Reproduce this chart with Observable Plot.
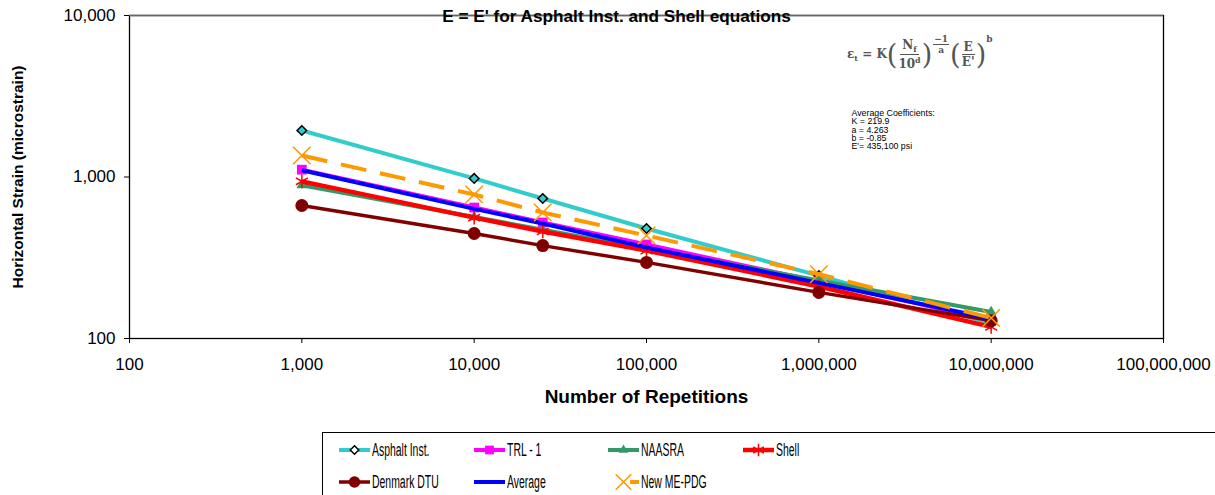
<!DOCTYPE html>
<html><head><meta charset="utf-8">
<script src="https://cdn.jsdelivr.net/npm/d3@7"></script>
<script src="https://cdn.jsdelivr.net/npm/@observablehq/plot@0.6"></script>
<style>
body{margin:0;background:#fff;font-family:Arial,"Liberation Sans",sans-serif;}
#wrap{position:relative;width:1215px;height:495px;overflow:hidden;background:#fff;}
#wrap svg.plot{position:absolute;left:0;top:0;}
.eq{position:absolute;left:847px;top:38px;font-family:"DejaVu Serif","Liberation Serif",serif;font-size:12px;color:#555;display:flex;align-items:center;white-space:nowrap;font-weight:bold;}
.eq .frac{display:inline-flex;flex-direction:column;align-items:center;margin:0 1px;}
.eq .frac span:first-child{border-bottom:1px solid #555;padding:0 2px;}
.eq .paren{font-size:27px;font-weight:200;line-height:1;}
.eq .sup{align-self:flex-start;font-size:9px;margin-top:-4px;}
.eq sub,.eq sup{font-size:8px;}
.legend{position:absolute;left:322px;top:432px;width:920px;height:80px;border:1px solid #000;box-sizing:border-box;}
.legend .item{position:absolute;height:22px;display:flex;align-items:center;}
.legend .item span{display:inline-block;font-size:18px;transform:scaleX(0.58);transform-origin:left center;white-space:nowrap;margin-left:2px;}
</style></head><body><div id="wrap"></div>
<script>
// ---- data ----
const repetitions = [1000, 10000, 25000, 100000, 1000000, 10000000];
const seriesNames = ["Asphalt Inst.", "TRL - 1", "NAASRA", "Shell", "Denmark DTU", "Average", "New ME-PDG"];
const asphaltInst = [1940, 980, 736, 480, 245, 124];
const trl1 = [1110, 647, 523, 382, 225, 130];
const naasra = [890, 565, 472, 360, 229, 146];
const shell = [940, 560, 460, 350, 210, 118];
const denmarkDTU = [666, 447, 376, 296, 193, 129];
const average = [1100, 635, 515, 366, 221, 133];
const newMEPDG = [1358, 779, 603, 434, 250, 134];
const xTicks = [100, 1000, 10000, 100000, 1000000, 10000000, 100000000];
const yTicks = [100, 1000, 10000];
const titleText = "E = E' for Asphalt Inst. and Shell equations";
const xTitle = "Number of Repetitions";
const yTitle = "Horizontal Strain (microstrain)";
const coefText = "Average Coefficients:\nK = 219.9\na = 4.263\nb = -0.85\nE'= 435,100 psi";

const seriesValues = [asphaltInst, trl1, naasra, shell, denmarkDTU, average, newMEPDG];
// ---- styles ----
const styles = [
  {color:"#33CCCC", width:4, symbol:"diamond2", r:4.3, fill:"#33CCCC", mstroke:"#000", msw:1.5},
  {color:"#FF00FF", width:4, symbol:"square", r:5.5, fill:"#FF00FF", mstroke:"none", msw:0},
  {color:"#339966", width:4, symbol:"triangle", r:4, fill:"#339966", mstroke:"none", msw:0},
  {color:"#FF0000", width:4.5, symbol:"asterisk", r:6.5, fill:"none", mstroke:"#FF0000", msw:1.5},
  {color:"#800000", width:3.5, symbol:"circle", r:6.5, fill:"#800000", mstroke:"none", msw:0},
  {color:"#0000FF", width:4, symbol:null},
  {color:"#FF9900", width:4, dash:"26,14", symbol:"times", r:8, fill:"none", mstroke:"#FF9900", msw:1.6}
];

const rows = seriesNames.map((name, i) => repetitions.map((n, j) => ({series: name, n, v: seriesValues[i][j]})));

const marks = [];
rows.forEach((d, i) => {
  const s = styles[i];
  marks.push(Plot.line(d, {x:"n", y:"v", stroke:s.color, strokeWidth:s.width, strokeDasharray:s.dash, strokeLinecap:"butt"}));
  if (s.symbol) marks.push(Plot.dot(d, {x:"n", y:"v", symbol:()=>s.symbol, r:s.r, fill:s.fill, stroke:s.mstroke, strokeWidth:s.msw}));
});

const chart = Plot.plot({
  width: 1215, height: 425,
  marginLeft: 129, marginRight: 52, marginTop: 15, marginBottom: 87,
  style: {fontFamily: "Arial, 'Liberation Sans', sans-serif", fontSize: "17px", color: "#000", background: "transparent"},
  x: {type: "log", domain: [100, 100000000]},
  y: {type: "log", domain: [100, 10000]},
  marks: [
    Plot.axisX({ticks: xTicks, tickFormat: d3.format(","), tickSize: 5, tickPadding: 14, label: null, fontSize: 17}),
    Plot.axisY({ticks: yTicks, tickFormat: d3.format(","), tickSize: 5, tickPadding: 9, label: null, fontSize: 17}),
    ...marks,
    Plot.frame({stroke: "#000", strokeWidth: 1.3}),
    Plot.ruleY([10000], {stroke: "#666", strokeWidth: 1.5}),
    Plot.text([xTitle], {frameAnchor: "bottom", dy: 64, fontWeight: "bold", fontSize: 19}),
    Plot.text([yTitle], {frameAnchor: "left", dx: -111, rotate: -90, textAnchor: "middle", fontWeight: "bold", fontSize: 15.5}),
    Plot.text([titleText], {frameAnchor: "top", dx: -30, dy: -6, fontWeight: "bold", fontSize: 17.2}),
    Plot.text([coefText], {frameAnchor: "top-left", dx: 722, dy: 95, textAnchor: "start", lineAnchor: "top", fontSize: 8.8, lineHeight: 0.93})
  ]
});

const wrap = document.getElementById("wrap");
wrap.appendChild(chart);

// equation overlay
const eq = document.createElement("div");
eq.className = "eq";
eq.innerHTML = '<span>ε<sub>t</sub>&nbsp;=&nbsp;K</span><span class="paren">(</span><span class="frac"><span>N<sub>f</sub></span><span>10<sup>d</sup></span></span><span class="paren">)</span>' +
  '<span class="sup frac" style="font-size:9px"><span style="padding:0 1px">−1</span><span>a</span></span>' +
  '<span class="paren">(</span><span class="frac"><span>E</span><span>E\'</span></span><span class="paren">)</span><span class="sup">b</span>';
wrap.appendChild(eq);

// legend
const legend = document.createElement("div");
legend.className = "legend";
const pos = [[16,6],[151,6],[285,6],[420,6],[16,38],[151,38],[285,38]];
seriesNames.forEach((name, i) => {
  const s = styles[i];
  const it = document.createElement("div");
  it.className = "item";
  it.style.left = pos[i][0] + "px";
  it.style.top = pos[i][1] + "px";
  const ns = "http://www.w3.org/2000/svg";
  const svg = document.createElementNS(ns, "svg");
  svg.setAttribute("width", 31); svg.setAttribute("height", 22);
  const line = document.createElementNS(ns, "line");
  line.setAttribute("x1", 0); line.setAttribute("x2", 31); line.setAttribute("y1", 11); line.setAttribute("y2", 11);
  line.setAttribute("stroke", s.color); line.setAttribute("stroke-width", s.width);
  if (s.dash) line.setAttribute("stroke-dasharray", "0,22,10");
  svg.appendChild(line);
  if (s.symbol) {
    const p = document.createElementNS(ns, "path");
    const map = {diamond2: d3.symbolDiamond2, square: d3.symbolSquare, triangle: d3.symbolTriangle, asterisk: d3.symbolAsterisk, circle: d3.symbolCircle, times: d3.symbolTimes};
    const size = Math.PI * s.r * s.r * 0.8;
    p.setAttribute("d", d3.symbol(map[s.symbol], size)());
    p.setAttribute("transform", "translate(15.5,11)");
    p.setAttribute("fill", s.symbol === "diamond2" ? "#fff" : s.fill);
    p.setAttribute("stroke", s.mstroke); p.setAttribute("stroke-width", s.msw);
    svg.appendChild(p);
  }
  it.appendChild(svg);
  const t = document.createElement("span");
  t.textContent = name;
  it.appendChild(t);
  legend.appendChild(it);
});
wrap.appendChild(legend);
</script></body></html>
